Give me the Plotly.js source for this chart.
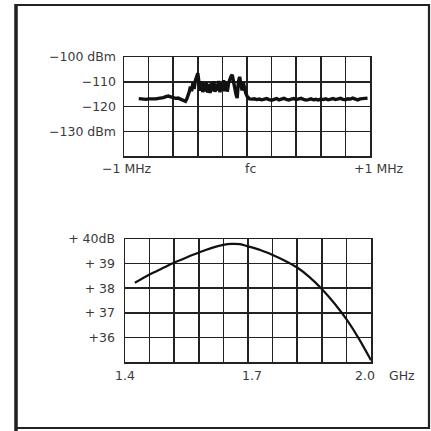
<!DOCTYPE html>
<html>
<head>
<meta charset="utf-8">
<script src="https://cdn.plot.ly/plotly-3.0.1.min.js"></script>
<style>html,body{margin:0;padding:0;background:#fff;}#chart{width:431px;height:431px;}</style>
</head>
<body>
<div id="chart"></div>
<script>
// Top panel: spectrum around fc (offset in MHz) vs level (dBm)
const spectrumOffsetMHz = [
  -0.88,-0.86,-0.84,-0.82,-0.80,-0.78,-0.76,-0.74,-0.72,-0.70,-0.68,-0.66,-0.64,-0.62,-0.60,-0.58,-0.56,-0.54,-0.52,-0.50,
  -0.49,-0.48,-0.47,-0.46,-0.45,-0.44,-0.43,-0.42,-0.41,-0.40,-0.39,-0.38,-0.37,-0.36,-0.35,-0.34,-0.33,-0.32,-0.31,-0.30,
  -0.29,-0.28,-0.27,-0.26,-0.25,-0.24,-0.23,-0.22,-0.21,-0.20,-0.19,-0.18,-0.17,-0.16,-0.15,-0.14,-0.13,-0.12,-0.11,-0.10,
  -0.09,-0.08,-0.07,-0.06,-0.05,-0.04,-0.03,-0.02,-0.01,0.00,0.01,0.02,
  0.04,0.06,0.08,0.10,0.12,0.14,0.16,0.18,0.20,0.22,0.24,0.26,0.28,0.30,0.32,0.34,0.36,0.38,0.40,0.42,0.44,0.46,0.48,0.50,
  0.52,0.54,0.56,0.58,0.60,0.62,0.64,0.66,0.68,0.70,0.72,0.74,0.76,0.78,0.80,0.82,0.84,0.86,0.88,0.90,0.92,0.94,0.96,0.98
];
const spectrumLevelDbm = [
  -116.8,-117.0,-116.9,-117.1,-116.9,-117.0,-116.8,-116.9,-116.7,-116.6,-116.4,-116.0,-115.8,-116.1,-116.5,-116.7,-116.6,-117.0,-117.4,-117.9,
  -117.0,-115.8,-114.2,-112.0,-113.8,-110.5,-112.9,-109.6,-108.2,-106.6,-110.4,-113.6,-109.8,-114.2,-110.6,-113.9,-110.2,-114.4,-111.0,-114.6,
  -110.4,-113.8,-109.9,-114.1,-110.8,-113.6,-109.7,-114.3,-110.5,-113.7,-109.4,-113.9,-110.1,-114.0,-110.6,-108.9,-107.8,-107.2,-110.4,-113.2,
  -115.0,-116.6,-110.0,-108.0,-111.2,-113.5,-110.4,-113.2,-114.6,-115.8,-116.6,-116.9,
  -117.0,-116.9,-117.2,-117.0,-117.3,-117.1,-116.8,-117.2,-117.5,-117.1,-116.8,-117.3,-117.0,-116.7,-117.1,-117.4,-117.0,-116.8,-117.2,-117.0,-116.7,-117.1,-117.4,-117.2,
  -116.9,-117.3,-117.1,-117.4,-117.0,-117.2,-116.9,-117.3,-117.1,-116.8,-117.2,-117.0,-116.7,-117.1,-117.3,-116.9,-117.0,-116.6,-117.1,-117.3,-116.9,-116.8,-117.0,-116.6
];
const topXGridVals = [-1,-0.8,-0.6,-0.4,-0.2,0,0.2,0.4,0.6,0.8,1];
const topXLabels = ["\u22121 MHz","fc","+1 MHz"];
const topYTickVals = [-140,-130,-120,-110,-100];
const topYTickText = ["","\u2212130 dBm","\u2212120","\u2212110","\u2212100 dBm"];

// Bottom panel: gain (dB) vs frequency (GHz)
const gainFreqGHz = [1.424,1.46,1.49,1.52,1.55,1.58,1.61,1.64,1.66,1.68,1.70,1.73,1.76,1.79,1.82,1.85,1.88,1.91,1.94,1.97,2.00];
const gainDb = [38.22,38.56,38.80,39.04,39.25,39.45,39.63,39.76,39.80,39.79,39.70,39.55,39.35,39.12,38.84,38.45,37.97,37.40,36.74,35.96,35.07];
const botXGridVals = [1.4,1.46,1.52,1.58,1.64,1.7,1.76,1.82,1.88,1.94,2.0];
const botXLabels = ["1.4","1.7","2.0","GHz"];
const botYTickVals = [35,36,37,38,39,40];
const botYTickText = ["","+36","+ 37","+ 38","+ 39","+ 40dB"];

const fontSpec = {family: "DejaVu Sans, sans-serif", size: 12.5, color: "#3a3a3a"};
const gridColor = "#222";
const W = 431, H = 431;
const px = v => v / W;
const py = v => (H - v) / H;

const traces = [
  {x: spectrumOffsetMHz, y: spectrumLevelDbm, xaxis: "x", yaxis: "y", type: "scatter", mode: "lines",
   line: {color: "#111", width: 3.4}, hoverinfo: "skip"},
  {x: gainFreqGHz, y: gainDb, xaxis: "x2", yaxis: "y2", type: "scatter", mode: "lines",
   line: {color: "#111", width: 2.2, shape: "spline", smoothing: 0.8}, hoverinfo: "skip"}
];

function axisBase(extra) {
  return Object.assign({
    showgrid: true, gridcolor: gridColor, gridwidth: 1.5,
    showline: true, linecolor: gridColor, linewidth: 1.5, mirror: true,
    zeroline: false, ticks: "", tickmode: "array", tickfont: fontSpec, fixedrange: true
  }, extra);
}

function label(text, x, y, anchor) {
  return {text: text, xref: "paper", yref: "paper", x: px(x), y: py(y), xanchor: anchor || "center", yanchor: "middle",
          showarrow: false, font: fontSpec};
}

const layout = {
  width: W, height: H,
  margin: {l: 0, r: 0, t: 0, b: 0},
  paper_bgcolor: "#fff", plot_bgcolor: "#fff",
  showlegend: false,
  font: fontSpec,
  xaxis: axisBase({domain: [px(124), px(370)], range: [-1, 1], tickvals: topXGridVals, showticklabels: false, anchor: "y"}),
  yaxis: axisBase({domain: [py(156), py(57)], range: [-140, -100], tickvals: topYTickVals, ticktext: topYTickText, anchor: "x", ticklabelstandoff: 4}),
  xaxis2: axisBase({domain: [px(125), px(371)], range: [1.4, 2.0], tickvals: botXGridVals, showticklabels: false, anchor: "y2"}),
  yaxis2: axisBase({domain: [py(362), py(239)], range: [35, 40], tickvals: botYTickVals, ticktext: botYTickText, anchor: "x2", ticklabelstandoff: 6}),
  annotations: [
    label(topXLabels[0], 127, 168),
    label(topXLabels[1], 250, 168),
    label(topXLabels[2], 379, 168),
    label(botXLabels[0], 125, 375),
    label(botXLabels[1], 252, 375),
    label(botXLabels[2], 365, 375),
    label(botXLabels[3], 402, 375)
  ],
  shapes: [
    {type: "rect", xref: "paper", yref: "paper", x0: px(16), x1: px(429), y0: py(428), y1: py(5),
     line: {color: "#222", width: 2.2}, fillcolor: "rgba(0,0,0,0)"},
    {type: "line", xref: "paper", yref: "paper", x0: px(16), x1: px(16), y0: py(431), y1: py(4),
     line: {color: "#222", width: 3.5}}
  ]
};

Plotly.newPlot("chart", traces, layout, {staticPlot: true, displayModeBar: false});
</script>
</body>
</html>
